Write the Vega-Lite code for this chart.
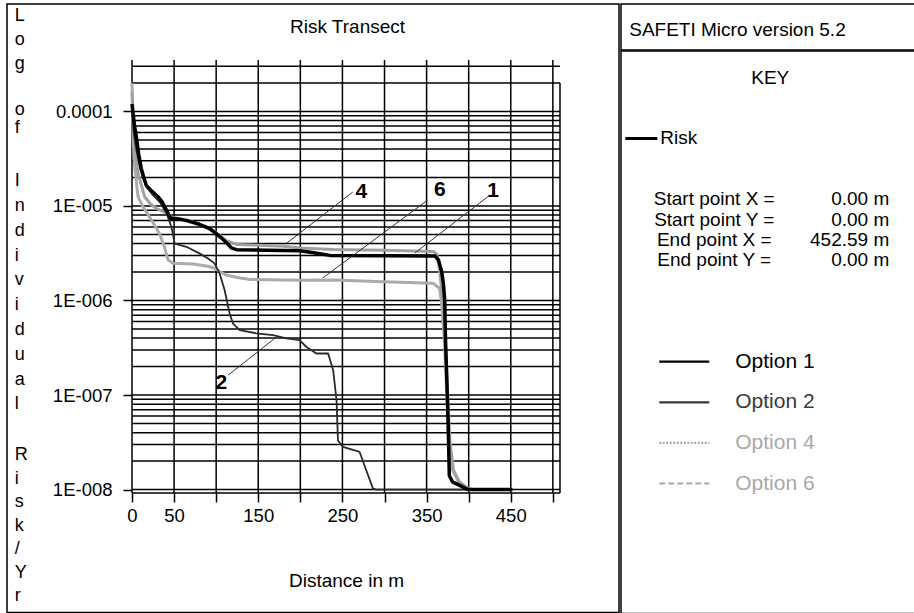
{
  "$schema": "https://vega.github.io/schema/vega-lite/v6.json",
  "background": "white",
  "padding": {"left": 6, "top": 3, "right": 0, "bottom": 0},
  "config": {
    "font": "Liberation Sans",
    "view": {"stroke": "#000", "strokeWidth": 1.5}
  },
  "datasets": {
    "series": [
      {"option":"Option 6","x":0,"y":2e-4},{"option":"Option 6","x":0.8,"y":1e-4},{"option":"Option 6","x":1.5,"y":5e-5},{"option":"Option 6","x":3.2,"y":2.6e-5},{"option":"Option 6","x":7.2,"y":1.25e-5},{"option":"Option 6","x":13,"y":9.8e-6},{"option":"Option 6","x":20.7,"y":7.7e-6},{"option":"Option 6","x":27,"y":6.2e-6},{"option":"Option 6","x":32.6,"y":5.1e-6},{"option":"Option 6","x":38,"y":3.8e-6},{"option":"Option 6","x":42.8,"y":2.7e-6},{"option":"Option 6","x":48.7,"y":2.47e-6},{"option":"Option 6","x":72.5,"y":2.43e-6},{"option":"Option 6","x":90,"y":2.3e-6},{"option":"Option 6","x":98,"y":2.19e-6},{"option":"Option 6","x":105,"y":2.0e-6},{"option":"Option 6","x":112,"y":1.86e-6},{"option":"Option 6","x":125,"y":1.75e-6},{"option":"Option 6","x":140,"y":1.67e-6},{"option":"Option 6","x":199,"y":1.64e-6},{"option":"Option 6","x":240,"y":1.65e-6},{"option":"Option 6","x":298,"y":1.58e-6},{"option":"Option 6","x":358,"y":1.52e-6},{"option":"Option 6","x":365.5,"y":1.34e-6},{"option":"Option 6","x":368,"y":9e-7},{"option":"Option 6","x":371,"y":4e-7},{"option":"Option 6","x":374,"y":1e-7},{"option":"Option 6","x":377,"y":3e-8},{"option":"Option 6","x":381,"y":1.6e-8},{"option":"Option 6","x":388,"y":1.2e-8},{"option":"Option 6","x":396,"y":1.05e-8},{"option":"Option 6","x":402,"y":1e-8},{"option":"Option 6","x":452,"y":1e-8},
      {"option":"Option 4","x":0,"y":1.6e-4},{"option":"Option 4","x":1.5,"y":8e-5},{"option":"Option 4","x":3.2,"y":3.9e-5},{"option":"Option 4","x":7.2,"y":2.2e-5},{"option":"Option 4","x":15,"y":1.25e-5},{"option":"Option 4","x":22,"y":1.05e-5},{"option":"Option 4","x":29,"y":9.4e-6},{"option":"Option 4","x":40,"y":8.5e-6},{"option":"Option 4","x":47,"y":7.6e-6},{"option":"Option 4","x":65,"y":7.1e-6},{"option":"Option 4","x":80,"y":6.4e-6},{"option":"Option 4","x":100,"y":5.2e-6},{"option":"Option 4","x":112,"y":4.3e-6},{"option":"Option 4","x":125,"y":3.9e-6},{"option":"Option 4","x":144,"y":3.86e-6},{"option":"Option 4","x":180,"y":3.75e-6},{"option":"Option 4","x":200,"y":3.6e-6},{"option":"Option 4","x":239,"y":3.47e-6},{"option":"Option 4","x":300,"y":3.4e-6},{"option":"Option 4","x":358,"y":3.3e-6},{"option":"Option 4","x":362,"y":3.1e-6},{"option":"Option 4","x":365.5,"y":2.1e-6},{"option":"Option 4","x":367.5,"y":1.4e-6},{"option":"Option 4","x":370,"y":9e-7},{"option":"Option 4","x":372,"y":4e-7},{"option":"Option 4","x":375,"y":1e-7},{"option":"Option 4","x":378,"y":3e-8},{"option":"Option 4","x":382,"y":1.6e-8},{"option":"Option 4","x":389,"y":1.2e-8},{"option":"Option 4","x":398,"y":1.05e-8},{"option":"Option 4","x":405,"y":1e-8},{"option":"Option 4","x":452,"y":1e-8},
      {"option":"Option 2","x":0,"y":1.1e-4},{"option":"Option 2","x":2,"y":6e-5},{"option":"Option 2","x":5,"y":4e-5},{"option":"Option 2","x":10,"y":2.4e-5},{"option":"Option 2","x":17,"y":1.6e-5},{"option":"Option 2","x":25,"y":1.3e-5},{"option":"Option 2","x":33,"y":1.1e-5},{"option":"Option 2","x":41,"y":8.4e-6},{"option":"Option 2","x":46.8,"y":6e-6},{"option":"Option 2","x":50.8,"y":4e-6},{"option":"Option 2","x":64.6,"y":3.7e-6},{"option":"Option 2","x":80,"y":3.15e-6},{"option":"Option 2","x":90,"y":2.8e-6},{"option":"Option 2","x":98,"y":2.47e-6},{"option":"Option 2","x":104,"y":1.94e-6},{"option":"Option 2","x":110,"y":1.29e-6},{"option":"Option 2","x":116,"y":7.3e-7},{"option":"Option 2","x":120,"y":5.7e-7},{"option":"Option 2","x":128,"y":4.86e-7},{"option":"Option 2","x":148,"y":4.49e-7},{"option":"Option 2","x":167.5,"y":4.3e-7},{"option":"Option 2","x":183.4,"y":3.97e-7},{"option":"Option 2","x":199,"y":3.81e-7},{"option":"Option 2","x":207,"y":3.24e-7},{"option":"Option 2","x":219,"y":2.75e-7},{"option":"Option 2","x":233,"y":2.75e-7},{"option":"Option 2","x":239,"y":1.83e-7},{"option":"Option 2","x":243,"y":8.8e-8},{"option":"Option 2","x":244.7,"y":3.3e-8},{"option":"Option 2","x":250.7,"y":2.83e-8},{"option":"Option 2","x":270.4,"y":2.5e-8},{"option":"Option 2","x":278.3,"y":1.6e-8},{"option":"Option 2","x":286.2,"y":1.03e-8},{"option":"Option 2","x":290,"y":1e-8},{"option":"Option 2","x":452,"y":1e-8},
      {"option":"Option 1","x":0,"y":1.2e-4},{"option":"Option 1","x":3,"y":7e-5},{"option":"Option 1","x":5,"y":5.5e-5},{"option":"Option 1","x":8,"y":3.5e-5},{"option":"Option 1","x":11,"y":2.5e-5},{"option":"Option 1","x":14,"y":2e-5},{"option":"Option 1","x":17,"y":1.65e-5},{"option":"Option 1","x":23,"y":1.45e-5},{"option":"Option 1","x":31,"y":1.25e-5},{"option":"Option 1","x":36,"y":1.1e-5},{"option":"Option 1","x":41,"y":9e-6},{"option":"Option 1","x":46,"y":7.4e-6},{"option":"Option 1","x":55,"y":7.3e-6},{"option":"Option 1","x":65,"y":7.0e-6},{"option":"Option 1","x":80,"y":6.4e-6},{"option":"Option 1","x":92,"y":5.8e-6},{"option":"Option 1","x":100,"y":5.1e-6},{"option":"Option 1","x":106,"y":4.6e-6},{"option":"Option 1","x":112,"y":4.1e-6},{"option":"Option 1","x":118,"y":3.6e-6},{"option":"Option 1","x":124,"y":3.45e-6},{"option":"Option 1","x":160,"y":3.4e-6},{"option":"Option 1","x":199,"y":3.35e-6},{"option":"Option 1","x":210,"y":3.25e-6},{"option":"Option 1","x":225,"y":3.1e-6},{"option":"Option 1","x":235,"y":3.0e-6},{"option":"Option 1","x":300,"y":2.98e-6},{"option":"Option 1","x":360,"y":2.95e-6},{"option":"Option 1","x":364,"y":2.7e-6},{"option":"Option 1","x":368,"y":2.0e-6},{"option":"Option 1","x":370,"y":1.5e-6},{"option":"Option 1","x":371.5,"y":1.0e-6},{"option":"Option 1","x":372.5,"y":3.8e-7},{"option":"Option 1","x":374,"y":1.5e-7},{"option":"Option 1","x":375.5,"y":5.4e-8},{"option":"Option 1","x":377,"y":1.4e-8},{"option":"Option 1","x":381,"y":1.2e-8},{"option":"Option 1","x":390,"y":1.1e-8},{"option":"Option 1","x":397,"y":1.02e-8},{"option":"Option 1","x":400,"y":1e-8},{"option":"Option 1","x":452,"y":1e-8}
    ],
    "xgrid": [{"v":0},{"v":50},{"v":100},{"v":150},{"v":200},{"v":250},{"v":300},{"v":350},{"v":400},{"v":450},{"v":500}],
    "ygrid": [{"v":1e-8},{"v":2e-8},{"v":3e-8},{"v":4e-8},{"v":5e-8},{"v":6e-8},{"v":7e-8},{"v":8e-8},{"v":9e-8},{"v":1e-7},{"v":2e-7},{"v":3e-7},{"v":4e-7},{"v":5e-7},{"v":6e-7},{"v":7e-7},{"v":8e-7},{"v":9e-7},{"v":1e-6},{"v":2e-6},{"v":3e-6},{"v":4e-6},{"v":5e-6},{"v":6e-6},{"v":7e-6},{"v":8e-6},{"v":9e-6},{"v":1e-5},{"v":2e-5},{"v":3e-5},{"v":4e-5},{"v":5e-5},{"v":6e-5},{"v":7e-5},{"v":8e-5},{"v":9e-5},{"v":1e-4},{"v":2e-4},{"v":3e-4}],
    "leaders": [
      {"label":"4","x":262.2,"y":1.40e-5,"x2":183.4,"y2":4.02e-6},
      {"label":"6","x":351.3,"y":1.155e-5,"x2":226.6,"y2":1.73e-6},
      {"label":"1","x":425.0,"y":1.30e-5,"x2":335.9,"y2":3.17e-6},
      {"label":"2","x":114.1,"y":1.62e-7,"x2":169.5,"y2":3.97e-7}
    ],
    "labels": [
      {"label":"4","x":272.6,"y":1.413e-5},
      {"label":"6","x":365.6,"y":1.462e-5},
      {"label":"1","x":428.9,"y":1.427e-5},
      {"label":"2","x":106.2,"y":1.327e-7}
    ],
    "key": [
      {"item":"KEY","kind":"heading"},
      {"item":"Risk","kind":"series"},
      {"item":"Start point X =","value":"0.00 m","kind":"setting"},
      {"item":"Start point Y =","value":"0.00 m","kind":"setting"},
      {"item":"End point X =","value":"452.59 m","kind":"setting"},
      {"item":"End point Y =","value":"0.00 m","kind":"setting"},
      {"item":"Option 1","kind":"option"},
      {"item":"Option 2","kind":"option"},
      {"item":"Option 4","kind":"option"},
      {"item":"Option 6","kind":"option"}
    ],
    "header": [{"text":"SAFETI Micro version 5.2"}]
  },
  "spacing": -2,
  "hconcat": [
    {
      "width": 612,
      "height": 608.5,
      "view": {"stroke": "#000", "strokeWidth": 1.5},
      "title": {"text": "Risk Transect", "fontSize": 19, "fontWeight": "normal", "color": "#000", "frame": "group", "anchor": "middle", "dx": 34.5, "offset": -47.5, "baseline": "alphabetic"},
      "resolve": {"axis": {"x": "independent", "y": "independent"}},
      "layer": [
        {
          "data": {"name": "xgrid"},
          "mark": {"type": "rule", "color": "#000", "strokeWidth": 1.5},
          "encoding": {
            "x": {
              "field": "v", "type": "quantitative",
              "scale": {"domain": [-148.51, 578.59], "nice": false, "zero": false},
              "axis": {
                "orient": "bottom",
                "values": [0,50,100,150,200,250,300,350,400,450,500],
                "labelExpr": "indexof([100,200,300,400,500], datum.value) >= 0 ? '' : datum.label",
                "offset": -119.5, "domain": false, "grid": false,
                "labelOverlap": false, "labelFlush": false,
                "labelFontSize": 18.5, "labelColor": "#000", "labelBaseline": "alphabetic", "labelPadding": 19.5,
                "tickSize": 9, "tickWidth": 1.5, "tickColor": "#000",
                "title": "Distance in m", "titleFontSize": 19, "titleFontWeight": "normal", "titleColor": "#000",
                "titleX": 339, "titleY": 93, "titleAlign": "center", "titleBaseline": "alphabetic"
              }
            },
            "y": {"datum": 3.5e-4, "type": "quantitative", "scale": {"type": "log", "domain": [5.006e-10, 1.369e-3], "nice": false}, "axis": null},
            "y2": {"datum": 9.2e-9}
          }
        },
        {
          "data": {"name": "ygrid"},
          "mark": {"type": "rule", "color": "#000", "strokeWidth": 1.5},
          "encoding": {
            "y": {
              "field": "v", "type": "quantitative",
              "scale": {"type": "log", "domain": [5.006e-10, 1.369e-3], "nice": false},
              "axis": {
                "orient": "left",
                "values": [1e-8,1e-7,1e-6,1e-5,1e-4],
                "labelExpr": "round(log(datum.value)/LN10) == -4 ? '0.0001' : '1E-00' + (-round(log(datum.value)/LN10))",
                "offset": -125, "domain": false, "grid": false,
                "labelOverlap": false,
                "labelFontSize": 18.5, "labelColor": "#000", "labelPadding": 11,
                "tickSize": 9, "tickWidth": 1.5, "tickColor": "#000",
                "title": ["L","o","g"],
                "titleAngle": 0, "titleAlign": "left", "titleBaseline": "alphabetic",
                "titleX": -117.75, "titleY": 16.25, "titleLineHeight": 24,
                "titleFontSize": 18, "titleFontWeight": "normal", "titleColor": "#000"
              }
            },
            "x": {"datum": 0, "type": "quantitative", "scale": {"domain": [-148.51, 578.59], "nice": false, "zero": false}, "axis": null},
            "x2": {"datum": 508.5}
          }
        },
        {
          "data": {"values": [{}]},
          "mark": {"type": "rule", "color": "#000", "strokeWidth": 1.5},
          "encoding": {
            "y": {"datum": 9.2e-9, "type": "quantitative", "scale": {"type": "log", "domain": [5.006e-10, 1.369e-3], "nice": false}, "axis": null},
            "x": {"datum": 0, "type": "quantitative", "scale": {"domain": [-148.51, 578.59], "nice": false, "zero": false}, "axis": null},
            "x2": {"datum": 508.5}
          }
        },
        {
          "data": {"values": [{}]},
          "mark": {"type": "rule", "color": "#000", "strokeWidth": 1.5},
          "encoding": {
            "x": {"datum": 508.5, "type": "quantitative", "scale": {"domain": [-148.51, 578.59], "nice": false, "zero": false}, "axis": null},
            "y": {"datum": 2e-4, "type": "quantitative", "scale": {"type": "log", "domain": [5.006e-10, 1.369e-3], "nice": false}, "axis": null},
            "y2": {"datum": 9.2e-9}
          }
        },
        {
          "data": {"name": "series"},
          "transform": [{"filter": "datum.option === 'Option 6'"}],
          "mark": {"type": "line", "color": "#ababab", "strokeWidth": 3, "strokeJoin": "round"},
          "encoding": {
            "x": {"field": "x", "type": "quantitative", "scale": {"domain": [-148.51, 578.59], "nice": false, "zero": false}, "axis": null},
            "y": {"field": "y", "type": "quantitative", "scale": {"type": "log", "domain": [5.006e-10, 1.369e-3], "nice": false},
              "axis": {"orient": "left", "offset": -125, "domain": false, "ticks": false, "labels": false, "grid": false,
                "title": ["o","f"], "titleAngle": 0, "titleAlign": "left", "titleBaseline": "alphabetic",
                "titleX": -117.75, "titleY": 110.25, "titleLineHeight": 18,
                "titleFontSize": 18, "titleFontWeight": "normal", "titleColor": "#000"}}
          }
        },
        {
          "data": {"name": "series"},
          "transform": [{"filter": "datum.option === 'Option 4'"}],
          "mark": {"type": "line", "color": "#a0a0a0", "strokeWidth": 3, "strokeJoin": "round"},
          "encoding": {
            "x": {"field": "x", "type": "quantitative", "scale": {"domain": [-148.51, 578.59], "nice": false, "zero": false}, "axis": null},
            "y": {"field": "y", "type": "quantitative", "scale": {"type": "log", "domain": [5.006e-10, 1.369e-3], "nice": false}, "axis": null}
          }
        },
        {
          "data": {"name": "series"},
          "transform": [{"filter": "datum.option === 'Option 2'"}],
          "mark": {"type": "line", "color": "#2a2a2a", "strokeWidth": 1.8, "strokeJoin": "round"},
          "encoding": {
            "x": {"field": "x", "type": "quantitative", "scale": {"domain": [-148.51, 578.59], "nice": false, "zero": false}, "axis": null},
            "y": {"field": "y", "type": "quantitative", "scale": {"type": "log", "domain": [5.006e-10, 1.369e-3], "nice": false}, "axis": null}
          }
        },
        {
          "data": {"name": "series"},
          "transform": [{"filter": "datum.option === 'Option 1'"}],
          "mark": {"type": "line", "color": "#000", "strokeWidth": 3.5, "strokeJoin": "round"},
          "encoding": {
            "x": {"field": "x", "type": "quantitative", "scale": {"domain": [-148.51, 578.59], "nice": false, "zero": false}, "axis": null},
            "y": {"field": "y", "type": "quantitative", "scale": {"type": "log", "domain": [5.006e-10, 1.369e-3], "nice": false}, "axis": null}
          }
        },
        {
          "data": {"name": "leaders"},
          "mark": {"type": "rule", "color": "#333", "strokeWidth": 1},
          "encoding": {
            "x": {"field": "x", "type": "quantitative", "scale": {"domain": [-148.51, 578.59], "nice": false, "zero": false}, "axis": null},
            "y": {"field": "y", "type": "quantitative", "scale": {"type": "log", "domain": [5.006e-10, 1.369e-3], "nice": false},
              "axis": {"orient": "left", "offset": -125, "domain": false, "ticks": false, "labels": false, "grid": false,
                "title": ["I","n","d","i","v","i","d","u","a","l"], "titleAngle": 0, "titleAlign": "left", "titleBaseline": "alphabetic",
                "titleX": -117.75, "titleY": 181.75, "titleLineHeight": 24.8,
                "titleFontSize": 18, "titleFontWeight": "normal", "titleColor": "#000"}},
            "x2": {"field": "x2"},
            "y2": {"field": "y2"}
          }
        },
        {
          "data": {"name": "labels"},
          "mark": {"type": "text", "fontSize": 21, "fontWeight": "bold", "color": "#000", "align": "center", "baseline": "middle"},
          "encoding": {
            "x": {"field": "x", "type": "quantitative", "scale": {"domain": [-148.51, 578.59], "nice": false, "zero": false}, "axis": null},
            "y": {"field": "y", "type": "quantitative", "scale": {"type": "log", "domain": [5.006e-10, 1.369e-3], "nice": false},
              "axis": {"orient": "left", "offset": -125, "domain": false, "ticks": false, "labels": false, "grid": false,
                "title": ["R","i","s","k","/","Y","r"], "titleAngle": 0, "titleAlign": "left", "titleBaseline": "alphabetic",
                "titleX": -117.75, "titleY": 455.75, "titleLineHeight": 23.5,
                "titleFontSize": 18, "titleFontWeight": "normal", "titleColor": "#000"}},
            "text": {"field": "label"}
          }
        }
      ]
    },
    {
      "spacing": -2,
      "vconcat": [
        {
          "width": 294.5, "height": 46,
          "view": {"stroke": "#000", "strokeWidth": 1.5},
          "data": {"name": "header"},
          "layer": [
            {
              "mark": {"type": "text", "align": "left", "baseline": "middle", "dx": -139, "dy": 3, "fontSize": 19, "color": "#000"},
              "encoding": {"text": {"field": "text"}}
            }
          ]
        },
        {
          "width": 294.5, "height": 562.5,
          "view": {"stroke": "#000", "strokeWidth": 1.5},
          "data": {"name": "key"},
          "encoding": {
            "y": {
              "field": "item", "type": "nominal", "axis": null,
              "scale": {"type": "point", "padding": 0, "range": [26.5, 432.5],
                "domain": ["KEY","s1","s2","Risk","s3","s4","Start point X =","Start point Y =","End point X =","End point Y =","s5","s6","s7","s8","Option 1","s9","Option 2","s10","Option 4","s11","Option 6"]}
            }
          },
          "layer": [
            {
              "transform": [{"filter": "datum.kind === 'heading'"}],
              "mark": {"type": "text", "fontSize": 19, "align": "center", "baseline": "middle", "color": "#000", "dx": 2},
              "encoding": {"text": {"field": "item"}}
            },
            {
              "transform": [{"filter": "datum.kind === 'series'"}],
              "mark": {"type": "point", "shape": "stroke", "filled": false, "size": 1024, "strokeWidth": 3, "color": "#000", "opacity": 1, "xOffset": -127}
            },
            {
              "transform": [{"filter": "datum.kind === 'series'"}],
              "mark": {"type": "text", "fontSize": 19, "align": "left", "baseline": "middle", "color": "#000", "dx": -108},
              "encoding": {"text": {"field": "item"}}
            },
            {
              "transform": [{"filter": "datum.kind === 'setting'"}],
              "mark": {"type": "text", "fontSize": 19, "align": "center", "baseline": "middle", "color": "#000", "dx": -54},
              "encoding": {"text": {"field": "item"}}
            },
            {
              "transform": [{"filter": "datum.kind === 'setting'"}],
              "mark": {"type": "text", "fontSize": 19, "align": "right", "baseline": "middle", "color": "#000", "dx": 121},
              "encoding": {"text": {"field": "value"}}
            },
            {
              "transform": [{"filter": "datum.kind === 'option'"}],
              "mark": {"type": "point", "shape": "stroke", "filled": false, "size": 2500, "strokeWidth": 2.2, "opacity": 1, "xOffset": -84},
              "encoding": {
                "color": {"field": "item", "type": "nominal", "legend": null,
                  "scale": {"domain": ["Option 1","Option 2","Option 4","Option 6"], "range": ["#000000","#3a3a3a","#a8a8a8","#a8a8a8"]}},
                "strokeDash": {"field": "item", "type": "nominal", "legend": null,
                  "scale": {"domain": ["Option 1","Option 2","Option 4","Option 6"], "range": [[1,0],[1,0],[2,1.5],[6,3]]}}
              }
            },
            {
              "transform": [{"filter": "datum.kind === 'option'"}],
              "mark": {"type": "text", "fontSize": 21, "align": "left", "baseline": "middle", "dx": -33},
              "encoding": {
                "text": {"field": "item"},
                "color": {"field": "item", "type": "nominal", "legend": null,
                  "scale": {"domain": ["Option 1","Option 2","Option 4","Option 6"], "range": ["#000000","#3a3a3a","#a8a8a8","#a8a8a8"]}}
              }
            }
          ]
        }
      ]
    }
  ]
}
